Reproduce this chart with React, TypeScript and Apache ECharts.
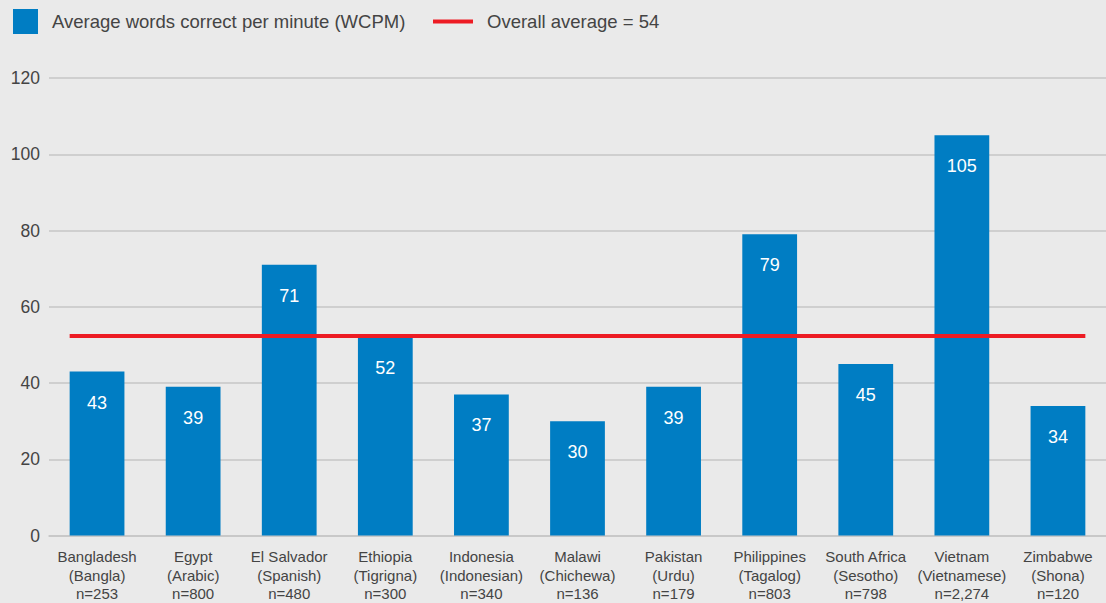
import React, { useEffect, useRef } from "react";
import * as echarts from "echarts";

const countries = ["Bangladesh", "Egypt", "El Salvador", "Ethiopia", "Indonesia", "Malawi", "Pakistan", "Philippines", "South Africa", "Vietnam", "Zimbabwe"];
const languages = ["Bangla", "Arabic", "Spanish", "Tigrigna", "Indonesian", "Chichewa", "Urdu", "Tagalog", "Sesotho", "Vietnamese", "Shona"];
const sampleSizes = ["253", "800", "480", "300", "340", "136", "179", "803", "798", "2,274", "120"];
const wcpm = [43, 39, 71, 52, 37, 30, 39, 79, 45, 105, 34];
const overallAverageLabel = 54;
const overallAverageDrawn = 52.3;
const yTicks = { min: 0, max: 120, interval: 20 };

const BAR_NAME = "Average words correct per minute (WCPM)";
const LINE_NAME = `Overall average = ${overallAverageLabel}`;
const FONT = "'Liberation Sans', Arial, Helvetica, sans-serif";
const TEXT = "#444444";
const BLUE = "#007DC3";
const RED = "#ED1C24";
const GRID = "#C6C6C6";
const BAR_RATIO = 0.57;

export default function App() {
  const ref = useRef<HTMLDivElement>(null);
  useEffect(() => {
    document.body.style.margin = "0";
    if (!ref.current) return;
    const chart = echarts.init(ref.current, undefined, { renderer: "svg" });
    const categories = countries.map((c, i) => `${c}\n(${languages[i]})\nn=${sampleSizes[i]}`);
    const n = categories.length;
    const half = BAR_RATIO / 2;
    chart.setOption({
      animation: false,
      backgroundColor: "#EAEAEA",
      textStyle: { fontFamily: FONT },
      legend: [
        {
          data: [BAR_NAME],
          left: 8,
          top: 4,
          icon: "rect",
          itemWidth: 25,
          itemHeight: 25,
          textStyle: { fontFamily: FONT, fontSize: 18.5, color: TEXT, padding: [0, 0, 0, 9] },
          selectedMode: false,
        },
        {
          data: [LINE_NAME],
          left: 428,
          top: 7,
          icon: "rect",
          itemWidth: 40,
          itemHeight: 4,
          itemStyle: { color: RED },
          textStyle: { fontFamily: FONT, fontSize: 18.5, color: TEXT, padding: [0, 0, 0, 9] },
          selectedMode: false,
        },
      ],
      grid: { left: 49, right: -3, top: 78, bottom: 64, containLabel: false },
      xAxis: [
        {
          type: "category",
          data: categories,
          axisLine: { show: true, lineStyle: { color: GRID, width: 1.5 } },
          axisTick: { show: false },
          axisLabel: {
            interval: 0,
            fontFamily: FONT,
            fontSize: 15,
            lineHeight: 18.5,
            color: TEXT,
            margin: 12,
          },
        },
        {
          type: "value",
          min: -0.5,
          max: n - 0.5,
          show: false,
          position: "top",
        },
      ],
      yAxis: {
        type: "value",
        min: yTicks.min,
        max: yTicks.max,
        interval: yTicks.interval,
        axisLine: { show: false },
        axisTick: { show: false },
        axisLabel: { fontFamily: FONT, fontSize: 17.5, color: TEXT, margin: 9 },
        splitLine: { lineStyle: { color: GRID, width: 1.5 } },
      },
      series: [
        {
          name: BAR_NAME,
          type: "bar",
          data: wcpm,
          barWidth: `${BAR_RATIO * 100}%`,
          itemStyle: { color: BLUE },
          label: {
            show: true,
            position: "insideTop",
            distance: 22,
            color: "#FFFFFF",
            fontFamily: FONT,
            fontSize: 18,
          },
          z: 2,
        },
        {
          name: LINE_NAME,
          type: "line",
          xAxisIndex: 1,
          data: [
            [-half, overallAverageDrawn],
            [n - 1 + half, overallAverageDrawn],
          ],
          symbol: "none",
          lineStyle: { color: RED, width: 4 },
          itemStyle: { color: RED },
          z: 3,
        },
      ],
    });
    return () => chart.dispose();
  }, []);
  return <div ref={ref} style={{ width: 1106, height: 603 }} />;
}
